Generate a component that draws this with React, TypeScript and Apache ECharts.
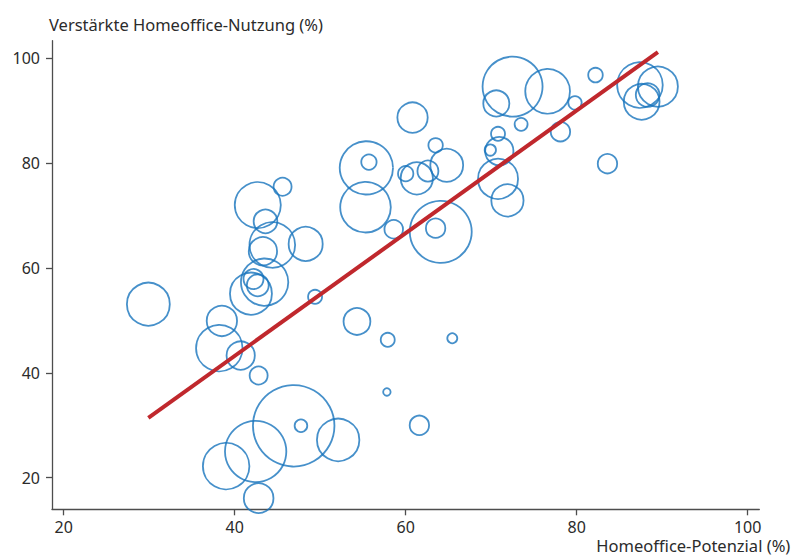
import React, { useEffect, useRef } from "react";
import * as echarts from "echarts";

// Homeoffice-Potenzial (%) per bubble
const potenzial = [
  29.9, 42.7, 45.6, 43.6, 44.4, 43.3, 48.3, 43.5, 42.2, 42.7,
  41.9, 49.4, 38.5, 54.3, 38.2, 40.7, 42.8, 46.9, 47.75, 52.1,
  42.45, 39.0, 42.8, 57.9, 65.45, 57.8, 61.6, 60.8, 55.4, 55.7,
  55.3, 58.6, 64.1, 63.5, 60.0, 61.3, 62.6, 64.8, 63.5, 70.8,
  71.9, 70.95, 69.9, 70.8, 73.5, 72.5, 70.6, 76.6, 79.8, 82.2,
  78.1, 83.6, 87.4, 89.5, 87.6, 88.3,
];
// Verstärkte Homeoffice-Nutzung (%) per bubble
const nutzung = [
  53.1, 72.0, 75.5, 68.9, 64.4, 63.2, 64.6, 57.3, 57.9, 56.7,
  55.1, 54.5, 49.9, 49.8, 44.7, 43.3, 39.5, 29.9, 29.9, 27.2,
  25.0, 22.2, 16.1, 46.3, 46.6, 36.35, 30.0, 88.7, 79.1, 80.2,
  71.6, 67.4, 66.9, 67.6, 78.0, 77.1, 78.5, 79.6, 83.4, 77.0,
  72.9, 82.3, 82.5, 85.6, 87.4, 94.6, 91.4, 93.7, 91.5, 96.8,
  86.0, 79.9, 94.9, 94.6, 91.7, 93.0,
];
// bubble weight (area-proportional)
const gewicht = [
  46, 53, 8.1, 14, 52, 20, 29, 56, 10, 12,
  44, 4.9, 23, 18, 54, 20, 8.1, 166, 4.0, 45,
  94, 54, 22, 4.9, 2.5, 1.4, 9.4, 23, 71, 5.9,
  64, 8.6, 96, 9.4, 5.9, 26, 11, 27, 5.2, 40,
  26, 20, 3.2, 4.9, 4.2, 90, 17, 50, 4.5, 5.3,
  9.4, 9.4, 52, 40, 32, 14,
];
// trend line end points
const trendX = [29.9, 89.5];
const trendY = [31.4, 101.2];

const xTicks = [20, 40, 60, 80, 100];
const yTicks = [20, 40, 60, 80, 100];

const xTitle = "Homeoffice-Potenzial (%)";
const yTitle = "Verstärkte Homeoffice-Nutzung (%)";

const FONT = "Noto Sans";
const TEXT = "#2b2b2b";
const AXIS = "#4d4d4d";

export default function App() {
  const ref = useRef<HTMLDivElement>(null);
  useEffect(() => {
    if (!ref.current) return;
    const chart = echarts.init(ref.current, null, { renderer: "svg" });
    const bubbles = potenzial.map((x, i) => [x, nutzung[i], gewicht[i]]);
    const trend = trendX.map((x, i) => [x, trendY[i]]);
    chart.setOption({
      animation: false,
      backgroundColor: "#ffffff",
      textStyle: { fontFamily: FONT },
      grid: {
        left: 52,
        right: 34.7,
        top: 40.7,
        bottom: 48.7,
        containLabel: false,
        outerBoundsMode: "none",
      },
      xAxis: {
        type: "value",
        min: 18.63,
        max: 101.36,
        splitLine: { show: false },
        axisLine: { show: true, lineStyle: { color: AXIS, width: 1.3 } },
        axisTick: { show: true, length: 6, customValues: xTicks, lineStyle: { color: AXIS, width: 1.3 } },
        axisLabel: {
          customValues: xTicks,
          color: TEXT,
          fontSize: 16,
          lineHeight: 14,
          fontFamily: FONT,
          margin: 11,
        },
        name: xTitle,
        nameLocation: "end",
        nameGap: 31,
        nameTextStyle: {
          color: TEXT,
          fontSize: 16.5,
          fontFamily: FONT,
          align: "right",
          verticalAlign: "top",
          padding: [27.5, 0, 0, 0],
        },
      },
      yAxis: {
        type: "value",
        min: 13.97,
        max: 103.36,
        splitLine: { show: false },
        axisLine: { show: true, lineStyle: { color: AXIS, width: 1.3 } },
        axisTick: { show: true, length: 6, customValues: yTicks, lineStyle: { color: AXIS, width: 1.3 } },
        axisLabel: { customValues: yTicks, color: TEXT, fontSize: 16, fontFamily: FONT, margin: 12 },
        name: yTitle,
        nameLocation: "end",
        nameGap: 8,
        nameTextStyle: {
          color: TEXT,
          fontSize: 16.5,
          fontFamily: FONT,
          align: "left",
          verticalAlign: "bottom",
          padding: [0, 0, 0, -3],
        },
      },
      series: [
        {
          type: "scatter",
          data: bubbles,
          clip: false,
          symbol: "circle",
          symbolSize: (v: number[]) => 2 * Math.sqrt(v[2] * 10),
          itemStyle: { color: "rgba(0,0,0,0)", borderColor: "#1874bd", borderWidth: 1.8 },
          emphasis: { disabled: true },
        },
        {
          type: "line",
          data: trend,
          symbol: "none",
          lineStyle: { color: "#c0282d", width: 4 },
          z: 3,
          emphasis: { disabled: true },
        },
      ],
    });
    return () => chart.dispose();
  }, []);
  return (
    <div
      ref={ref}
      style={{ position: "absolute", left: 0, top: 0, width: 794, height: 558 }}
    />
  );
}
